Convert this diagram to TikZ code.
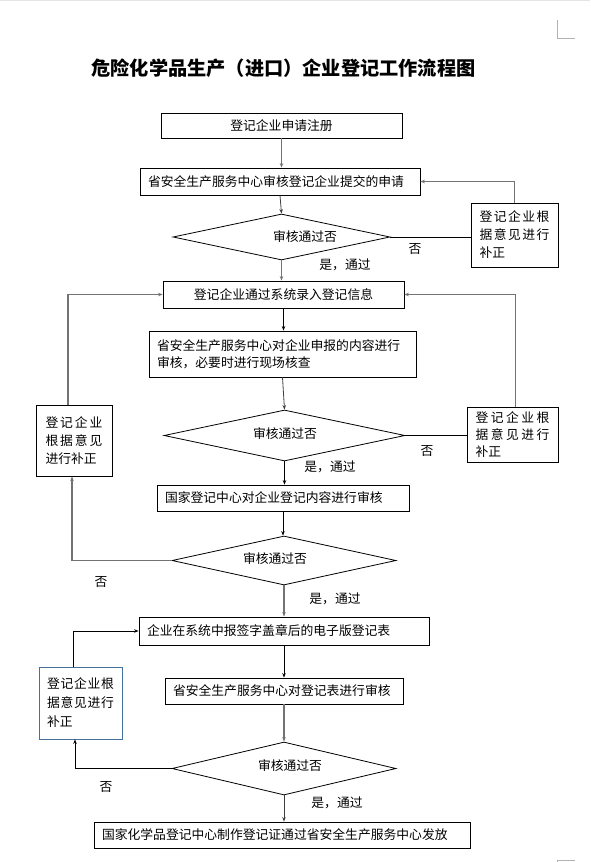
\documentclass[tikz,border=0pt]{standalone}
\usepackage{fontspec}
\newfontfamily\cjk{Noto Sans CJK SC}
\usetikzlibrary{shapes.geometric,arrows.meta}
\definecolor{sideblue}{RGB}{65,113,156}

\begin{document}
\begin{tikzpicture}[x=1pt, y=-1pt, every node/.style={font=\cjk\fontsize{12.8}{17}\selectfont, inner sep=0pt}, box/.style={draw, line width=0.8pt, minimum height=26pt}, lbox/.style={box, inner xsep=8pt, align=left}, side/.style={draw, line width=0.8pt, align=left}, dia/.style={draw, diamond, line width=0.8pt}, arr/.style={-{Stealth[length=4.5pt,width=3.5pt]}, line width=0.8pt}, garr/.style={arr, draw=gray!90!black, line width=1.3pt}, ln/.style={line width=0.8pt}]
	\useasboundingbox (0,0) rectangle (590,862);
	\draw[gray!20] (0,0.5) -- (590,0.5);
	\draw[gray!60] (557,20) -- (557,38) -- (575,38);
	\draw[gray!60] (557,862) -- (557,860) -- (575,860);
	\node[font=\cjk\bfseries\fontsize{19.2}{22}\selectfont] (title) at (283.5,68) {危险化学品生产（进口）企业登记工作流程图};
	\node[box, minimum width=241pt, minimum height=25pt] (b1) at (281.5,125.5) {登记企业申请注册};
	\node[lbox, text width=264pt, minimum height=27pt] (b2) at (280,181.5) {省安全生产服务中心审核登记企业提交的申请};
	\node[dia, minimum width=217pt, minimum height=46pt] (d1) at (281.5,237) {};
	\node (t1) at (305,237) {审核通过否};
	\node[box, minimum width=241pt, minimum height=27pt] (b3) at (283.5,294.5) {登记企业通过系统录入登记信息};
	\node[lbox, text width=251pt, minimum height=46pt] (b4) at (282.5,354) {省安全生产服务中心对企业申报的内容进行\\审核，必要时进行现场核查};
	\node[dia, minimum width=241pt, minimum height=51pt] (d2) at (284.5,435.5) {};
	\node (t2) at (285,434) {审核通过否};
	\node[lbox, text width=236pt] (b5) at (283,498) {国家登记中心对企业登记内容进行审核};
	\node[dia, minimum width=224pt, minimum height=49pt] (d3) at (284,560.5) {};
	\node (t3) at (275,559) {审核通过否};
	\node[lbox, text width=274pt, minimum height=28pt] (b6) at (284,631) {企业在系统中报签字盖章后的电子版登记表};
	\node[lbox, text width=222pt] (b7) at (284,691) {省安全生产服务中心对登记表进行审核};
	\node[dia, minimum width=224pt, minimum height=53pt] (d4) at (284,768.5) {};
	\node (t4) at (290,766) {审核通过否};
	\node[lbox, text width=360pt] (b8) at (282,835) {国家化学品登记中心制作登记证通过省安全生产服务中心发放};
	\node[side, minimum width=87pt, minimum height=64pt] (r1) at (514.5,235) {\makebox[70pt][s]{登\hfill 记\hfill 企\hfill 业\hfill 根}\\[1pt]\makebox[70pt][s]{据\hfill 意\hfill 见\hfill 进\hfill 行}\\[1pt]补正};
	\node[side, minimum width=91pt, minimum height=55pt] (r2) at (512.5,434.5) {\makebox[74pt][s]{登\hfill 记\hfill 企\hfill 业\hfill 根}\\\makebox[74pt][s]{据\hfill 意\hfill 见\hfill 进\hfill 行}\\补正};
	\node[side, minimum width=76pt, minimum height=71pt] (l2) at (74,440.5) {\makebox[57pt][s]{登\hfill 记\hfill 企\hfill 业}\\[1pt]\makebox[57pt][s]{根\hfill 据\hfill 意\hfill 见}\\[1pt]进行补正};
	\node[side, draw=sideblue, minimum width=83pt, minimum height=72pt] (l4) at (80.5,703) {\makebox[67pt][s]{登\hfill 记\hfill 企\hfill 业\hfill 根}\\[2pt]\makebox[67pt][s]{据\hfill 意\hfill 见\hfill 进\hfill 行}\\[2pt]补正};
	\node (n1) at (415,249) {否};
	\node (n2) at (427,451) {否};
	\node (n3) at (101,582) {否};
	\node (n4) at (106,787) {否};
	\node (y1) at (345,265) {是，通过};
	\node (y2) at (330,467) {是，通过};
	\node (y3) at (335,599) {是，通过};
	\node (y4) at (337,803) {是，通过};
	\draw[garr] (b1.south) -- (b1.south |- b2.north);
	\draw[arr, draw=darkgray] (b2.south) -- (d1.north);
	\draw[garr] (d1.south) -- (d1.south |- b3.north);
	\draw[ln] (d1.east) -- (d1.east -| r1.west);
	\draw[garr] (r1.north) |- (b2.east);
	\draw[arr] (b3.south) -- (b3.south |- b4.north);
	\draw[arr, draw=darkgray] (b4.south) -- (d2.north);
	\draw[ln] (d2.east) -- (d2.east -| r2.west);
	\draw[garr] ([xshift=3pt]r2.north) |- (b3.east);
	\draw[garr] ([xshift=-6pt]l2.north) |- (b3.west);
	\draw[arr] (d2.south) -- (d2.south |- b5.north);
	\draw[arr] (b5.south) -- (b5.south |- d3.north);
	\draw[garr] (d3.west) -| ([xshift=-2pt]l2.south);
	\draw[garr] (d3.south) -- (d3.south |- b6.north);
	\draw[arr] (b6.south) -- (b6.south |- b7.north);
	\draw[garr] (b7.south) -- (d4.north);
	\draw[arr, draw=darkgray] (d4.south) -- (d4.south |- b8.north);
	\draw[arr] (d4.west) -| ([xshift=-5.5pt]l4.south);
	\draw[arr] ([xshift=-7.5pt]l4.north) |- (b6.west);
\end{tikzpicture}
\end{document}
